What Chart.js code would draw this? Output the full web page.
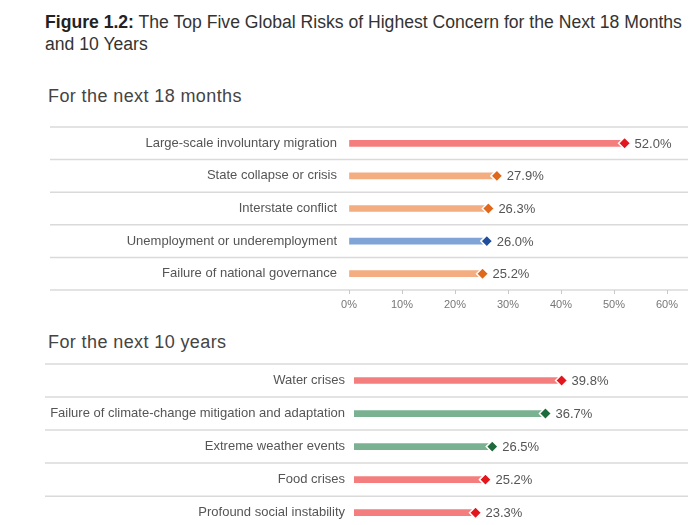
<!DOCTYPE html>
<html>
<head>
<meta charset="utf-8">
<script src="https://cdn.jsdelivr.net/npm/chart.js@4.4.1/dist/chart.umd.min.js"></script>
<style>
  html, body { margin: 0; padding: 0; background: #fff; overflow: hidden; width: 700px; height: 525px; }
  body { position: relative; font-family: "Liberation Sans", Arial, sans-serif; color: #333; }
  .title { position: absolute; left: 45px; top: 11px; font-size: 17.6px; line-height: 22px; color: #333; }
  .title b { font-weight: bold; color: #222; }
  .sub { position: absolute; left: 48px; font-size: 18px; letter-spacing: 0.4px; color: #444; }
  canvas { position: absolute; left: 0; }
</style>
</head>
<body>
<div class="title"><b>Figure 1.2:</b> The Top Five Global Risks of Highest Concern for the Next 18 Months<br>and 10 Years</div>
<div class="sub" style="top:86px">For the next 18 months</div>
<div class="sub" style="top:332px">For the next 10 years</div>
<canvas id="shortChart" width="700" height="205" style="top:110px"></canvas>
<canvas id="longChart" width="700" height="198" style="top:340px"></canvas>
<script>
const shortLabels = ['Large-scale involuntary migration', 'State collapse or crisis', 'Interstate conflict', 'Unemployment or underemployment', 'Failure of national governance'];
const shortValues = [52.0, 27.9, 26.3, 26.0, 25.2];
const shortGroups = ['societal', 'geopolitical', 'geopolitical', 'economic', 'geopolitical'];

const longLabels = ['Water crises', 'Failure of climate-change mitigation and adaptation', 'Extreme weather events', 'Food crises', 'Profound social instability'];
const longValues = [39.8, 36.7, 26.5, 25.2, 23.3];
const longGroups = ['societal', 'environmental', 'environmental', 'societal', 'societal'];

const xTicks = [0, 10, 20, 30, 40, 50, 60];

const barColors = { societal: '#f47e7e', geopolitical: '#f3ad80', economic: '#80a4d6', environmental: '#7ab291' };
const pointColors = { societal: '#e3151d', geopolitical: '#df681c', economic: '#1f4f9c', environmental: '#1d6b3a' };

const FONT = '"Liberation Sans", Arial, sans-serif';

const separators = {
    id: 'separators',
    beforeDraw(chart, args, opts) {
        const ctx = chart.ctx;
        const y = chart.scales.y;
        const n = y.ticks.length;
        const step = (chart.chartArea.bottom - chart.chartArea.top) / n;
        ctx.save();
        ctx.strokeStyle = '#dadada';
        ctx.lineWidth = 1.5;
        for (let i = 0; i <= n; i++) {
            const py = y.getPixelForValue(0) - step / 2 + i * step;
            ctx.beginPath();
            ctx.moveTo(opts.left, py);
            ctx.lineTo(opts.right, py);
            ctx.stroke();
        }
        ctx.restore();
    }
};

const valueLabels = {
    id: 'valueLabels',
    afterDatasetsDraw(chart) {
        const ctx = chart.ctx;
        const meta = chart.getDatasetMeta(1);
        const data = chart.data.datasets[1].data;
        ctx.save();
        ctx.fillStyle = '#555';
        ctx.font = '13px ' + FONT;
        ctx.textBaseline = 'middle';
        ctx.textAlign = 'left';
        meta.data.forEach((pt, i) => {
            ctx.fillText(data[i].toFixed(1) + '%', pt.x + 10, pt.y + 1);
        });
        ctx.restore();
    }
};

const makeChart = (id, labels, values, groups, axisWidth, showX, lineLeft) => {
    const ctx = document.getElementById(id).getContext('2d');
    return new Chart(ctx, {
        data: {
            labels: labels,
            datasets: [{
                type: 'bar',
                data: values,
                backgroundColor: groups.map(g => barColors[g]),
                barThickness: 6,
                order: 2
            }, {
                type: 'line',
                indexAxis: 'y',
                data: values,
                showLine: false,
                pointStyle: 'rectRot',
                pointRadius: 6,
                pointBackgroundColor: groups.map(g => pointColors[g]),
                pointBorderColor: '#ffffff',
                pointBorderWidth: 1.5,
                order: 1
            }]
        },
        options: {
            indexAxis: 'y',
            responsive: false,
            animation: false,
            devicePixelRatio: 1,
            layout: {
                padding: { top: showX ? 17 : 24, right: 33, bottom: 0, left: 0 }
            },
            scales: {
                x: {
                    min: 0,
                    max: 60,
                    display: showX,
                    afterBuildTicks: (scale) => { scale.ticks = xTicks.map(v => ({ value: v })); },
                    afterFit: (scale) => { if (showX) scale.height = 25; },
                    grid: { drawOnChartArea: false, tickLength: 4, color: '#c8c8c8' },
                    border: { display: false },
                    ticks: {
                        color: '#777',
                        padding: 4,
                        font: { family: FONT, size: 11 },
                        callback: (v) => v + '%'
                    }
                },
                y: {
                    afterFit: (scale) => { scale.width = axisWidth; },
                    grid: { display: false },
                    border: { display: false },
                    ticks: {
                        color: '#555',
                        padding: showX ? 4 : 1,
                        font: { family: FONT, size: 13 }
                    }
                }
            },
            plugins: {
                legend: { display: false },
                tooltip: { enabled: false },
                separators: { left: lineLeft, right: 688 }
            }
        },
        plugins: [separators, valueLabels]
    });
};

makeChart('shortChart', shortLabels, shortValues, shortGroups, 349, true, 50);
makeChart('longChart', longLabels, longValues, longGroups, 354, false, 45);
</script>
</body>
</html>
